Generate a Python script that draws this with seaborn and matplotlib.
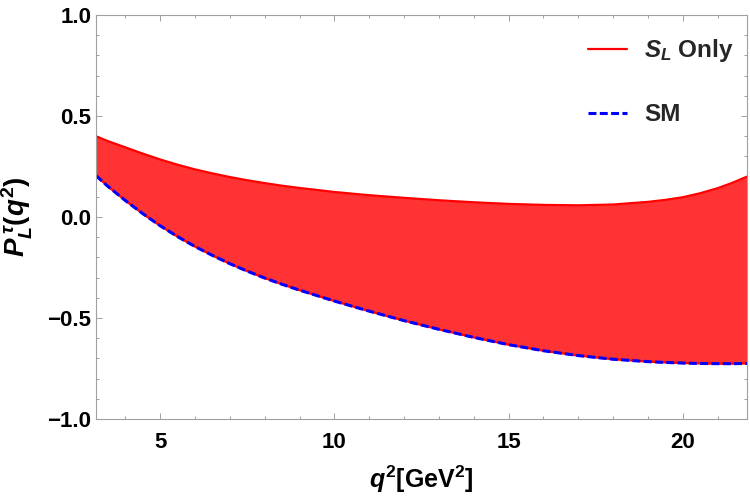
import numpy as np
import pandas as pd
import matplotlib
matplotlib.use("Agg")
import matplotlib.pyplot as plt
import seaborn as sns
from matplotlib.ticker import MultipleLocator

# valori
q2 = [3.16, 3.5, 4.0, 4.5, 5.0, 5.5, 6.0, 6.5, 7.0, 7.5, 8.0, 8.5, 9.0, 10.0,
      11.0, 12.0, 13.0, 14.0, 15.0, 16.0, 17.0, 18.0, 19.0, 19.5, 20.0, 20.5,
      21.0, 21.4, 21.84]
pl_sl_only = [0.40, 0.376, 0.345, 0.314, 0.285, 0.259, 0.236, 0.216, 0.198, 0.182,
              0.168, 0.155, 0.144, 0.124, 0.108, 0.095, 0.083, 0.073, 0.065, 0.06,
              0.058, 0.062, 0.075, 0.085, 0.098, 0.118, 0.143, 0.168, 0.20]
pl_sm = [0.205, 0.152, 0.082, 0.017, -0.043, -0.097, -0.146, -0.19, -0.231, -0.268,
         -0.302, -0.333, -0.362, -0.416, -0.466, -0.513, -0.556, -0.596, -0.632,
         -0.662, -0.686, -0.704, -0.716, -0.72, -0.723, -0.725, -0.726, -0.726,
         -0.725]

df = pd.DataFrame({"q2": q2, "sl": pl_sl_only, "sm": pl_sm})

sns.set_style("ticks")
plt.rcParams["font.family"] = ["Liberation Sans", "DejaVu Sans"]
plt.rcParams["font.weight"] = "bold"
plt.rcParams["mathtext.fontset"] = "custom"
plt.rcParams["mathtext.rm"] = "Liberation Sans:bold"
plt.rcParams["mathtext.bf"] = "Liberation Sans:bold"
plt.rcParams["mathtext.it"] = "Liberation Sans:bold:italic"

fig = plt.figure(figsize=(7.5, 4.98), dpi=100)
ax = fig.add_axes([0.128, 0.1586, 0.868, 0.8112])

# banda tra SM e S_L only
ax.fill_between(df["q2"], df["sm"], df["sl"], color="#ff3333", lw=0)
sns.lineplot(data=df, x="q2", y="sm", ax=ax, color="red", lw=1.6)
sns.lineplot(data=df, x="q2", y="sl", ax=ax, color="red", lw=1.6)
sns.lineplot(data=df, x="q2", y="sm", ax=ax, color="blue", lw=2.2)
h_sl = ax.lines[1]
h_sm = ax.lines[2]
h_sm.set_dashes([2.6, 1.1])

ax.set_xlim(3.16, 21.84)
ax.set_ylim(-1.0, 1.0)
ax.xaxis.set_major_locator(MultipleLocator(5))
ax.xaxis.set_minor_locator(MultipleLocator(1))
ax.yaxis.set_major_locator(MultipleLocator(0.5))
ax.yaxis.set_minor_locator(MultipleLocator(0.1))

grey = "#a0a0a0"
for s in ax.spines.values():
    s.set_visible(True)
    s.set_color(grey)
    s.set_linewidth(0.8)
ax.tick_params(which="both", direction="in", top=True, right=True, color=grey,
               labelcolor="black", labelsize=16, width=0.7)
ax.tick_params(which="major", length=4.5)
ax.tick_params(which="minor", length=2.5)
ax.tick_params(axis="x", pad=9)
ax.tick_params(axis="y", pad=3.5)
for lab in ax.get_xticklabels() + ax.get_yticklabels():
    lab.set_fontweight("bold")

ax.set_xlabel(r"$q^2$[GeV$^2$]", fontsize=18, fontweight="bold", color="black",
              labelpad=8)
ax.set_ylabel(r"$P_L^{\,\tau}(q^2)$", fontsize=20, fontweight="bold", color="black",
              labelpad=9)

ax.legend([h_sl, h_sm], [r"$S_L$ Only", "SM"], loc="upper left",
          bbox_to_anchor=(0.756, 0.945), frameon=False, borderpad=0,
          borderaxespad=0, handlelength=1.6, handletextpad=0.7,
          labelspacing=1.6, prop={"size": 17.5, "weight": "bold"})

fig.savefig("out.png", dpi=100)
